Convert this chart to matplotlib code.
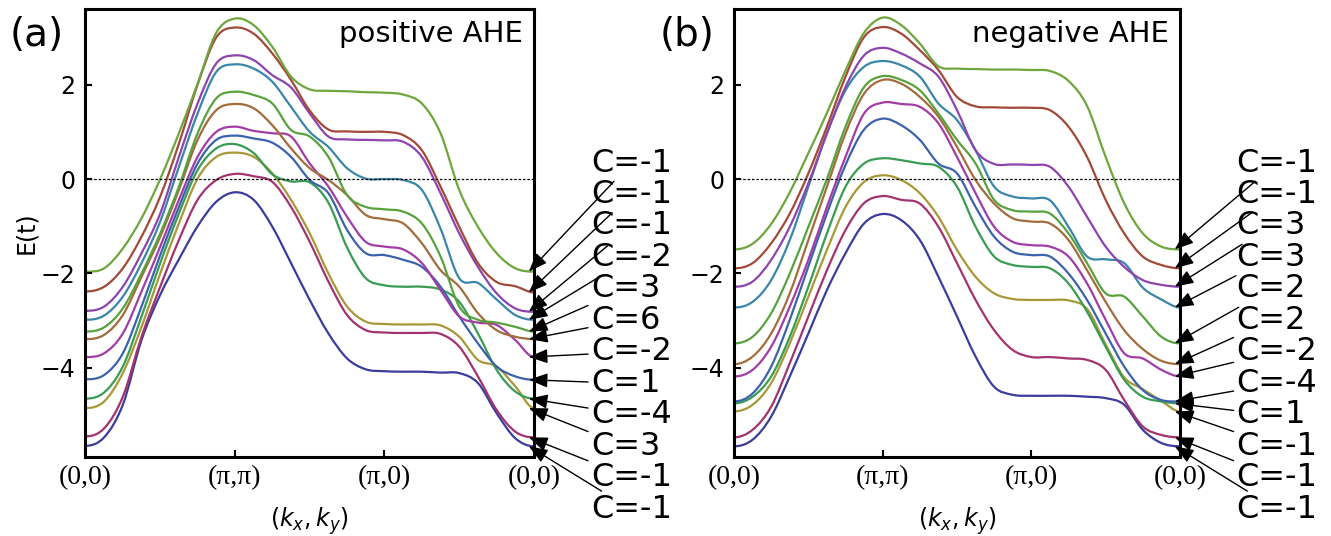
import numpy as np
import matplotlib.pyplot as plt
from matplotlib.path import Path
from matplotlib.patches import PathPatch

# path (0,0) -> (pi,pi) -> (pi,0) -> (0,0), read every 1/8 of a segment
k = np.arange(25) / 8
k_ticks = [0, 1, 2, 3]
k_labels = ["(0,0)", "(π,π)", "(π,0)", "(0,0)"]

# ---- positive AHE, bands listed bottom to top (at (0,0)) ----
pos_1 = [-5.65, -5.47, -4.78, -3.41, -2.45, -1.7, -1.0, -0.48, -0.28,
         -0.44, -1.01, -1.78, -2.56, -3.27, -3.80, -4.03, -4.07,
         -4.08, -4.08, -4.10, -4.11, -4.32, -4.96, -5.49, -5.66]
pos_2 = [-5.45, -5.28, -4.61, -3.34, -2.28, -1.29, -0.44, -0.02, 0.11,
         0.06, -0.06, -0.59, -1.33, -2.17, -2.88, -3.20, -3.25,
         -3.26, -3.26, -3.28, -3.55, -4.18, -4.89, -5.35, -5.47]
pos_3 = [-4.85, -4.71, -4.11, -3.13, -2.0, -0.94, 0.01, 0.47, 0.56,
         0.47, 0.12, -0.44, -1.15, -2.0, -2.70, -3.02, -3.07,
         -3.08, -3.08, -3.10, -3.34, -3.83, -3.97, -4.39, -4.85]
pos_4 = [-4.65, -4.52, -3.97, -2.91, -1.78, -0.73, 0.19, 0.65, 0.74,
         0.55, 0.10, -0.05, -0.07, -0.5, -1.45, -2.1, -2.25,
         -2.28, -2.28, -2.34, -2.60, -3.27, -4.04, -4.50, -4.65]
pos_5 = [-4.24, -4.15, -3.69, -2.70, -1.61, -0.59, 0.33, 0.83, 0.92,
         0.86, 0.77, 0.47, -0.02, -0.30, -1.08, -1.57, -1.61,
         -1.71, -1.86, -2.28, -2.91, -3.48, -3.97, -4.18, -4.25]
pos_6 = [-3.77, -3.69, -3.27, -2.38, -1.43, -0.44, 0.47, 1.0, 1.11,
         1.02, 0.97, 0.90, 0.33, -0.16, -0.80, -1.33, -1.43,
         -1.49, -1.78, -2.35, -2.91, -3.04, -3.09, -3.41, -3.77]
pos_7 = [-3.39, -3.30, -2.88, -2.07, -1.22, -0.23, 0.83, 1.46, 1.59,
         1.50, 1.14, 0.65, 0.23, -0.02, -0.34, -0.76, -0.85,
         -0.94, -1.36, -1.93, -2.28, -2.84, -3.20, -3.34, -3.39]
pos_8 = [-3.23, -3.14, -2.74, -2.0, -1.15, -0.16, 0.97, 1.71, 1.85,
         1.78, 1.60, 1.04, 0.90, 0.47, -0.34, -0.59, -0.64,
         -0.69, -0.94, -1.64, -2.70, -2.98, -3.04, -3.13, -3.23]
pos_9 = [-2.98, -2.89, -2.49, -1.78, -0.9, 0.26, 1.39, 2.27, 2.43,
         2.34, 2.06, 1.53, 1.0, 0.68, 0.23, 0.01, 0.0,
         -0.02, -0.23, -1.05, -2.1, -2.2, -2.55, -2.88, -2.98]
pos_10 = [-2.79, -2.70, -2.28, -1.57, -0.73, 0.47, 1.60, 2.45, 2.62,
          2.52, 2.20, 1.94, 1.39, 0.90, 0.84, 0.83, 0.82,
          0.79, 0.47, -0.30, -1.15, -1.86, -2.42, -2.74, -2.81]
pos_11 = [-2.38, -2.28, -1.89, -1.22, -0.37, 0.75, 2.0, 3.0, 3.21,
          3.08, 2.66, 2.10, 1.45, 1.05, 1.01, 1.0, 1.0,
          0.93, 0.61, -0.16, -1.01, -1.78, -2.18, -2.27, -2.40]
pos_12 = [-1.96, -1.89, -1.47, -0.83, 0.0, 0.97, 2.02, 3.1, 3.40,
          3.26, 2.80, 2.17, 1.90, 1.87, 1.86, 1.84, 1.83,
          1.79, 1.60, 0.97, -0.23, -1.01, -1.57, -1.89, -1.96]
pos_chern = ["C=-1", "C=-1", "C=-1", "C=-2", "C=3", "C=6",
             "C=-2", "C=1", "C=-4", "C=3", "C=-1", "C=-1"]  # top to bottom

# ---- negative AHE ----
neg_1 = [-5.66, -5.52, -5.03, -4.18, -3.27, -2.35, -1.57, -0.94, -0.74,
         -0.87, -1.29, -2.07, -2.91, -3.76, -4.40, -4.57, -4.59,
         -4.59, -4.59, -4.61, -4.64, -4.78, -5.31, -5.59, -5.66]
neg_2 = [-5.47, -5.31, -4.82, -3.90, -2.91, -1.93, -1.08, -0.51, -0.36,
         -0.44, -0.52, -1.01, -1.78, -2.56, -3.20, -3.62, -3.77,
         -3.77, -3.80, -3.83, -4.04, -4.68, -5.24, -5.42, -5.47]
neg_3 = [-4.92, -4.78, -4.32, -3.48, -2.49, -1.50, -0.59, -0.06, 0.08,
         -0.02, -0.30, -0.80, -1.50, -2.07, -2.42, -2.54, -2.56,
         -2.56, -2.57, -2.75, -3.5, -4.2, -4.45, -4.7, -4.92]
neg_4 = [-4.75, -4.61, -4.18, -3.34, -2.28, -1.15, -0.16, 0.33, 0.44,
         0.40, 0.33, 0.26, -0.16, -1.01, -1.64, -1.82, -1.86,
         -1.89, -2.21, -2.81, -3.55, -4.25, -4.61, -4.71, -4.75]
neg_5 = [-4.71, -4.54, -3.97, -2.98, -1.85, -0.73, 0.30, 1.05, 1.28,
         1.14, 0.83, 0.33, 0.12, -0.59, -1.22, -1.54, -1.61,
         -1.64, -2.0, -2.56, -3.27, -3.97, -4.47, -4.68, -4.71]
neg_6 = [-4.18, -4.04, -3.55, -2.70, -1.71, -0.59, 0.47, 1.39, 1.62,
         1.59, 1.53, 1.18, 0.47, -0.30, -1.01, -1.33, -1.40,
         -1.43, -1.64, -2.21, -2.98, -3.69, -3.80, -4.04, -4.18]
neg_7 = [-3.92, -3.76, -3.27, -2.42, -1.29, -0.16, 0.97, 1.81, 2.10,
         2.02, 1.74, 1.32, 0.68, -0.02, -0.52, -0.83, -0.90,
         -0.94, -1.29, -1.93, -2.6, -3.2, -3.6, -3.85, -3.92]
neg_8 = [-3.48, -3.34, -2.84, -2.0, -1.01, 0.0, 1.11, 1.95, 2.18,
         2.10, 1.88, 1.39, 0.83, 0.33, -0.44, -0.66, -0.69,
         -0.73, -1.15, -1.78, -2.42, -2.49, -2.91, -3.34, -3.48]
neg_9 = [-2.72, -2.60, -2.14, -1.29, -0.16, 0.97, 1.88, 2.38, 2.50,
         2.41, 2.17, 1.60, 1.25, 0.61, -0.16, -0.37, -0.41,
         -0.45, -1.01, -1.64, -1.70, -1.78, -2.3, -2.55, -2.72]
neg_10 = [-2.28, -2.17, -1.71, -1.01, -0.09, 0.97, 1.95, 2.62, 2.78,
          2.66, 2.45, 2.17, 1.46, 0.61, 0.32, 0.31, 0.30,
          0.26, -0.16, -0.80, -1.43, -1.86, -2.14, -2.24, -2.28]
neg_11 = [-1.89, -1.78, -1.36, -0.73, 0.12, 1.11, 2.17, 3.01, 3.22,
          3.08, 2.73, 2.31, 1.74, 1.54, 1.52, 1.51, 1.51,
          1.46, 1.11, 0.47, -0.44, -1.15, -1.64, -1.82, -1.89]
neg_12 = [-1.49, -1.37, -0.95, -0.28, 0.55, 1.40, 2.30, 3.10, 3.42,
          3.26, 2.87, 2.39, 2.34, 2.33, 2.32, 2.32, 2.31,
          2.29, 2.08, 1.55, 0.47, -0.51, -1.15, -1.43, -1.49]
neg_chern = ["C=-1", "C=-1", "C=3", "C=3", "C=2", "C=2",
             "C=-2", "C=-4", "C=1", "C=-1", "C=-1", "C=-1"]

band_colors = ["#3c3c9c", "#a3336e", "#a89838", "#389c52", "#3c62ac", "#a23ca6",
               "#a26c3c", "#58a23e", "#3a86aa", "#8e44ae", "#a24a38", "#6ea63c"]

pos_bands = [pos_1, pos_2, pos_3, pos_4, pos_5, pos_6,
             pos_7, pos_8, pos_9, pos_10, pos_11, pos_12]
neg_bands = [neg_1, neg_2, neg_3, neg_4, neg_5, neg_6,
             neg_7, neg_8, neg_9, neg_10, neg_11, neg_12]


def band_path(x, y):
    # smooth bezier curve through the read points (flat at the path ends)
    x = np.asarray(x, float)
    y = np.asarray(y, float)
    t = np.zeros(len(x))
    t[1:-1] = (y[2:] - y[:-2]) / (x[2:] - x[:-2])
    verts = [(x[0], y[0])]
    codes = [Path.MOVETO]
    for i in range(len(x) - 1):
        h = x[i + 1] - x[i]
        verts += [(x[i] + h / 3, y[i] + t[i] * h / 3),
                  (x[i + 1] - h / 3, y[i + 1] - t[i + 1] * h / 3),
                  (x[i + 1], y[i + 1])]
        codes += [Path.CURVE4] * 3
    return Path(verts, codes)


fig = plt.figure(figsize=(13.31, 5.36), dpi=100)
ax_a = fig.add_axes([0.0642, 0.148, 0.337, 0.835])
ax_b = fig.add_axes([0.5515, 0.148, 0.335, 0.835])


def draw_panel(ax, bands, chern, title, tag, show_ylabel):
    for band, col in zip(bands, band_colors):
        ax.add_patch(PathPatch(band_path(k, band), facecolor="none",
                               edgecolor=col, lw=1.6))
    ax.axhline(0, color="black", lw=0.9, ls=(0, (2, 1.5)))
    ax.set_xlim(0, 3)
    ax.set_ylim(-5.88, 3.6)
    ax.set_xticks(k_ticks)
    ax.set_yticks([-4, -2, 0, 2])
    ax.tick_params(direction="in", length=5, width=1.5, labelsize=17, pad=7)
    ax.set_xticklabels(k_labels, family="Liberation Serif", fontsize=20)
    ax.tick_params(axis="x", pad=6)
    for sp in ax.spines.values():
        sp.set_linewidth(2.2)
    ax.set_xlabel(r"$(k_x,k_y)$", fontsize=17, labelpad=11)
    if show_ylabel:
        ax.set_ylabel("E(t)", fontsize=17, labelpad=2)
    ax.text(0.975, 0.975, title, transform=ax.transAxes, ha="right", va="top",
            fontsize=21)
    ax.text(-0.168, 0.985, tag, transform=ax.transAxes, ha="left", va="top",
            fontsize=28)
    # Chern number labels, top to bottom, pointing at the band ends at (0,0)
    ends = [b[-1] for b in bands][::-1]
    for i, (lab, e) in enumerate(zip(chern, ends)):
        ax.annotate(lab, xy=(2.965, e), xytext=(3.38, 0.34 - 0.667 * i),
                    textcoords="data", ha="left", va="center", fontsize=23,
                    annotation_clip=False,
                    arrowprops=dict(arrowstyle="-|>,head_length=0.5,head_width=0.19",
                                    color="black", lw=1.0, shrinkA=0, shrinkB=0))


draw_panel(ax_a, pos_bands, pos_chern, "positive AHE", "(a)", True)
draw_panel(ax_b, neg_bands, neg_chern, "negative AHE", "(b)", False)

fig.savefig("out.png", dpi=100)
